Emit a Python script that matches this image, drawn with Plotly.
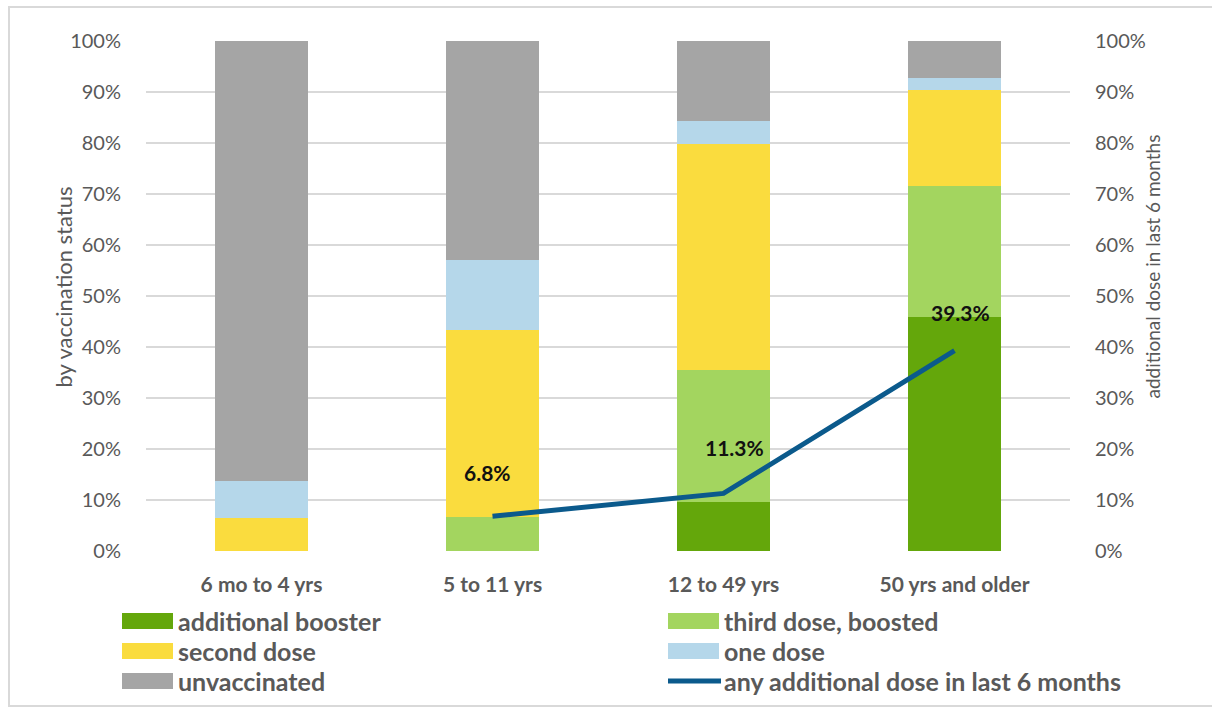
import plotly.graph_objects as go

# Age groups and vaccination-status shares (% of each group)
categories = ["6 mo to 4 yrs", "5 to 11 yrs", "12 to 49 yrs", "50 yrs and older"]
additional_booster = [0, 0, 9.6, 45.8]
third_dose_boosted = [0, 6.7, 25.9, 25.8]
second_dose = [6.5, 36.6, 44.3, 18.8]
one_dose = [7.3, 13.8, 4.6, 2.3]
unvaccinated = [86.2, 42.9, 15.6, 7.3]

# Share with any additional dose in the last 6 months (right axis)
recent_additional = [None, 6.8, 11.3, 39.3]

tick_vals = [0, 10, 20, 30, 40, 50, 60, 70, 80, 90, 100]
tick_text = [f"{v}%" for v in tick_vals]

series = [
    ("additional booster", additional_booster, "#64A70B"),
    ("third dose, boosted", third_dose_boosted, "#A3D55F"),
    ("second dose", second_dose, "#FADC3E"),
    ("one dose", one_dose, "#B5D7EA"),
    ("unvaccinated", unvaccinated, "#A5A5A5"),
]
line_name = "any additional dose in last 6 months"
line_color = "#0B5A8C"

W, H = 1212, 709
L, R, T, B = 146, 142, 41, 158
plot_w = W - L - R
plot_h = H - T - B


def px_x(px):
    return (px - L) / plot_w


def px_y(py):
    return (H - B - py) / plot_h


FONT = "Lato, 'Open Sans', sans-serif"
GREY_TXT = "#595959"

fig = go.Figure()
for name, vals, color in series:
    fig.add_trace(go.Bar(
        x=categories, y=vals, name=name,
        marker=dict(color=color, line=dict(width=0)),
        width=0.4, showlegend=False,
    ))

fig.add_trace(go.Scatter(
    x=categories, y=recent_additional, name=line_name, yaxis="y2",
    mode="lines", line=dict(color=line_color, width=5),
    showlegend=False,
))

annotations = []
# Value labels for the line
label_shift = {1: (-5, 44), 2: (11, 46), 3: (6, 38)}
for i, v in enumerate(recent_additional):
    if v is None:
        continue
    dx, dy = label_shift[i]
    annotations.append(dict(
        x=categories[i], y=v, xref="x", yref="y2", text=f"{v}%",
        showarrow=False, xshift=dx, yshift=dy,
        font=dict(family=FONT, size=21, color="#111111", weight="bold"),
    ))

# Axis titles
annotations.append(dict(
    x=px_x(47), y=px_y(287), xref="paper", yref="paper",
    text="by vaccination status", textangle=-90, showarrow=False,
    font=dict(family=FONT, size=22, color=GREY_TXT),
))
annotations.append(dict(
    x=px_x(1165), y=px_y(267), xref="paper", yref="paper",
    text="additional dose in last 6 months", textangle=-90, showarrow=False,
    font=dict(family=FONT, size=19, color=GREY_TXT),
))

shapes = []
# Outer frame
shapes.append(dict(
    type="rect", xref="paper", yref="paper",
    x0=px_x(9), x1=px_x(1240), y0=px_y(706), y1=px_y(7),
    line=dict(color="#D9D9D9", width=2), fillcolor="rgba(0,0,0,0)", layer="below",
))

# Legend: two columns, three rows
legend_items = [(n, c, "bar") for n, _, c in series] + [(line_name, line_color, "line")]
col_x = [122, 668]
row_y = [621, 651, 681]
for k, (name, color, kind) in enumerate(legend_items):
    cx = col_x[k % 2]
    cy = row_y[k // 2]
    if kind == "bar":
        shapes.append(dict(
            type="rect", xref="paper", yref="paper",
            x0=px_x(cx), x1=px_x(cx + 51), y0=px_y(cy + 8), y1=px_y(cy - 8),
            fillcolor=color, line=dict(width=0),
        ))
    else:
        shapes.append(dict(
            type="line", xref="paper", yref="paper",
            x0=px_x(cx), x1=px_x(cx + 53), y0=px_y(cy), y1=px_y(cy),
            line=dict(color=color, width=5),
        ))
    annotations.append(dict(
        x=px_x(cx + 54), y=px_y(cy), xref="paper", yref="paper",
        text=name, showarrow=False, xanchor="left", yanchor="middle",
        font=dict(family=FONT, size=25, color=GREY_TXT, weight="bold"),
    ))

axis_common = dict(
    range=[0, 100], tickvals=tick_vals, ticktext=tick_text,
    tickfont=dict(family=FONT, size=20, color=GREY_TXT),
    ticks="outside", ticklen=20, tickcolor="rgba(0,0,0,0)",
    zeroline=False, showline=False,
)

fig.update_layout(
    width=W, height=H,
    margin=dict(l=L, r=R, t=T, b=B, pad=0),
    paper_bgcolor="white", plot_bgcolor="white",
    barmode="stack",
    showlegend=False,
    font=dict(family=FONT),
    xaxis=dict(
        tickfont=dict(family=FONT, size=21, color=GREY_TXT, weight="bold"),
        ticks="outside", ticklen=15, tickcolor="rgba(0,0,0,0)",
        showgrid=False, showline=False, zeroline=False,
    ),
    yaxis=dict(showgrid=True, gridcolor="#D9D9D9", gridwidth=2, **axis_common),
    yaxis2=dict(overlaying="y", side="right", showgrid=False, **axis_common),
    annotations=annotations,
    shapes=shapes,
)

fig.write_html("out.html")
